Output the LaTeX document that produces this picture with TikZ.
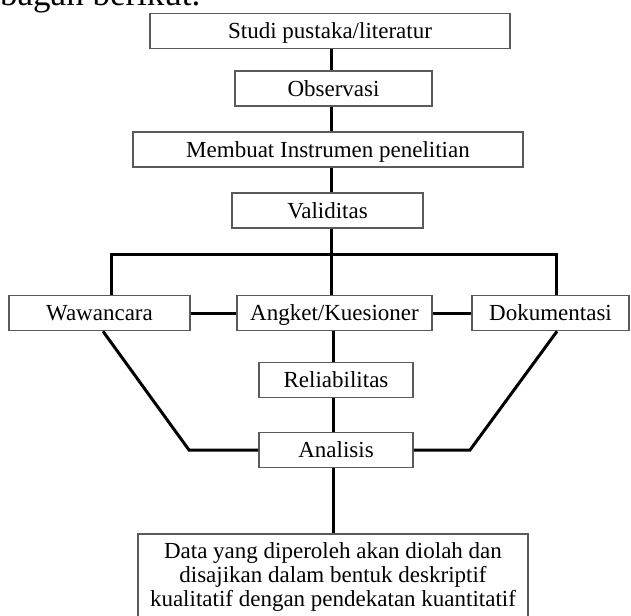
\documentclass[tikz,border=0pt]{standalone}
\usepackage{fontspec}
\setmainfont{Liberation Serif}
\usepackage{tikz}
\usetikzlibrary{positioning, calc}
\definecolor{boxgray}{RGB}{90, 90, 90}
\tikzset{
    basebox/.style={
        draw=boxgray, line width=1.6pt, fill=white, inner sep=0pt,
        font=\fontsize{23}{24}\selectfont
    },
    stepnode/.style={
        basebox, minimum height=35pt, text height=18.5pt, text depth=3.5pt
    },
    linkline/.style={
        line width=3pt, black
    }
}

\begin{document}
\begin{tikzpicture}[x=1pt, y=-1pt]
        \useasboundingbox (0,0) rectangle (631,615);
        \clip (0,0) rectangle (631,615);

        % ======================================
        % TEKS DI ATAS (TERPOTONG)
        % ======================================
        \node[anchor=base west, inner sep=0pt, font=\fontsize{35}{37}\selectfont] (judul) at (0,6) {bagan berikut.};

        % sumbu vertikal
        \coordinate (axisA) at (331,0);
        \coordinate (axisB) at (333,0);
        \coordinate (barL) at (111,254);
        \coordinate (barR) at (556,254);
        \coordinate (bendL) at (189,450);
        \coordinate (bendR) at (470,450);

        % ======================================
        % KOTAK-KOTAK
        % ======================================
        \node[stepnode, minimum width=360pt] (studi) at (330,31) {Studi pustaka/literatur};
        \node[stepnode, minimum width=197pt] (obs) at (333.5,88.5) {Observasi};
        \node[stepnode, minimum width=390pt] (instrumen) at (328,149.5) {Membuat Instrumen penelitian};
        \node[stepnode, minimum width=191pt] (valid) at (327.5,210.5) {Validitas};

        \node[stepnode, minimum width=181pt] (wawan) at (99.5,313) {Wawancara};
        \node[stepnode, minimum width=195pt] (angket) at (334.5,313) {Angket/Kuesioner};
        \node[stepnode, minimum width=157pt] (doku) at (550.5,313) {Dokumentasi};

        \node[stepnode, minimum width=154pt] (rel) at (336,380) {Reliabilitas};
        \node[stepnode, minimum width=154pt] (ana) at (336,450) {Analisis};

        \node[basebox, anchor=north, minimum width=390pt, inner ysep=9pt, align=center] (hasil) at (333,533)
            {Data yang diperoleh akan diolah dan\\disajikan dalam bentuk deskriptif\\kualitatif dengan pendekatan kuantitatif};

        % ======================================
        % GARIS PENGHUBUNG
        % ======================================
        \draw[linkline] (studi.south -| axisA) -- (obs.north -| axisA);
        \draw[linkline] (obs.south -| axisA) -- (instrumen.north -| axisA);
        \draw[linkline] (instrumen.south -| axisA) -- (valid.north -| axisA);
        \draw[linkline] (valid.south -| axisA) -- (angket.north -| axisA);
        \draw[linkline] (wawan.north -| barL) -- (barL) -- (barR) -- (doku.north -| barR);

        \draw[linkline] (wawan) -- (angket);
        \draw[linkline] (angket) -- (doku);

        \draw[linkline] (angket.south -| axisB) -- (rel.north -| axisB);
        \draw[linkline] (rel.south -| axisB) -- (ana.north -| axisB);
        \draw[linkline] (ana.south -| axisB) -- (hasil.north -| axisB);

        % garis miring ke Analisis
        \draw[linkline] ([xshift=3.5pt]wawan.south) -- (bendL) -- (ana.west);
        \draw[linkline] ([xshift=6.5pt]doku.south) -- (bendR) -- (ana.east);

    \end{tikzpicture}
\end{document}
